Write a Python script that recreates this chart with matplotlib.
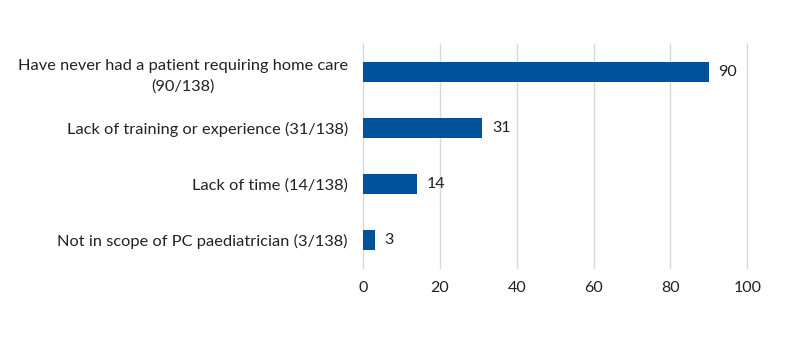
import matplotlib.pyplot as plt

# reasons for not providing home care (n=138)
categories = [
    "Have never had a patient requiring home care\n(90/138)",
    "Lack of training or experience (31/138)",
    "Lack of time (14/138)",
    "Not in scope of PC paediatrician (3/138)",
]
counts = [90, 31, 14, 3]
x_ticks = [0, 20, 40, 60, 80, 100]

plt.rcParams['font.family'] = ['Lato', 'DejaVu Sans']

fig = plt.figure(figsize=(8, 3.45), dpi=100)
ax = fig.add_axes([0.454, 0.223, 0.48, 0.649])

y_pos = list(range(len(categories)))
ax.barh(y_pos, counts, height=0.36, color='#00529B', zorder=3)
ax.set_ylim(len(categories) - 0.5, -0.5)
ax.set_xlim(0, 100)
ax.set_yticks(y_pos)
ax.set_yticklabels(categories, fontsize=11.8, color='#222222', ha='right',
                   multialignment='center', linespacing=1.5)
ax.set_xticks(x_ticks)
ax.set_xticklabels([str(t) for t in x_ticks], fontsize=11.5, color='#222222')

# value labels next to bars
for y, v in zip(y_pos, counts):
    ax.text(v + 2.5, y, str(v), va='center', ha='left', fontsize=11.5, color='#222222')

ax.grid(axis='x', color='#d9d9d9', linewidth=1, zorder=0)
for line in ax.get_xgridlines():
    line.set_clip_on(False)
for s in ax.spines.values():
    s.set_visible(False)
ax.tick_params(axis='x', length=0, pad=9)
ax.tick_params(axis='y', length=0, pad=11)

fig.savefig('out.png', dpi=100)
